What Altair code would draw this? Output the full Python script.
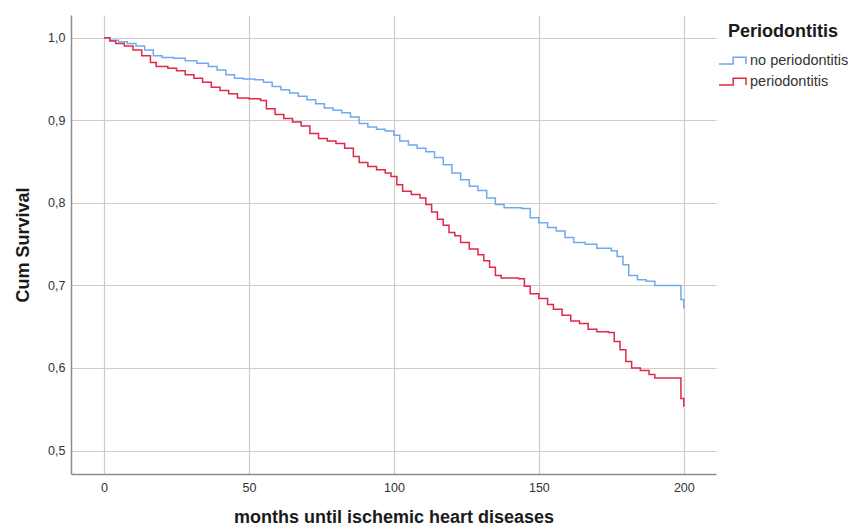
import altair as alt
import pandas as pd

groups = ["no periodontitis", "periodontitis"]
x_ticks = [0, 50, 100, 150, 200]
y_ticks = [0.5, 0.6, 0.7, 0.8, 0.9, 1.0]

no_t = [0, 2, 5, 8, 11, 14, 17, 20, 24, 28, 32, 36, 39, 42, 45, 48, 52, 55, 58, 61,
        64, 67, 70, 73, 76, 79, 82, 85, 88, 91, 94, 97, 100, 102, 105, 108, 111, 114,
        117, 120, 123, 126, 129, 132, 135, 138, 144, 147, 150, 153, 156, 159, 162, 166,
        170, 175, 177, 179, 181, 184, 187, 190, 199, 200]
no_s = [1.000, 0.997, 0.995, 0.993, 0.990, 0.985, 0.978, 0.976, 0.975, 0.972, 0.969,
        0.965, 0.961, 0.955, 0.951, 0.950, 0.949, 0.946, 0.941, 0.937, 0.933, 0.929,
        0.925, 0.920, 0.915, 0.912, 0.909, 0.904, 0.896, 0.892, 0.889, 0.887, 0.882,
        0.875, 0.870, 0.866, 0.862, 0.855, 0.846, 0.836, 0.828, 0.820, 0.815, 0.806,
        0.798, 0.794, 0.793, 0.782, 0.776, 0.770, 0.766, 0.758, 0.752, 0.750, 0.745,
        0.742, 0.735, 0.725, 0.712, 0.707, 0.705, 0.700, 0.683, 0.672]

p_t = [0, 2, 4, 7, 10, 13, 16, 18, 22, 25, 28, 31, 34, 37, 40, 43, 46, 50, 54, 56, 59,
       62, 65, 68, 71, 74, 77, 80, 83, 86, 88, 91, 94, 97, 99, 101, 103, 106, 109, 111,
       113, 115, 117, 119, 121, 123, 126, 129, 131, 133, 135, 137, 143, 145, 147, 150,
       153, 155, 158, 161, 164, 167, 170, 174, 176, 178, 180, 182, 185, 188, 190, 199,
       200]
p_s = [1.000, 0.996, 0.993, 0.990, 0.985, 0.978, 0.970, 0.965, 0.963, 0.960, 0.955,
       0.951, 0.946, 0.940, 0.936, 0.932, 0.927, 0.926, 0.924, 0.914, 0.907, 0.902,
       0.898, 0.893, 0.884, 0.878, 0.875, 0.872, 0.866, 0.856, 0.849, 0.844, 0.840,
       0.836, 0.832, 0.822, 0.814, 0.810, 0.806, 0.798, 0.789, 0.780, 0.773, 0.764,
       0.760, 0.752, 0.744, 0.737, 0.730, 0.722, 0.712, 0.709, 0.708, 0.699, 0.690,
       0.684, 0.677, 0.671, 0.664, 0.657, 0.654, 0.647, 0.644, 0.643, 0.632, 0.622,
       0.608, 0.600, 0.597, 0.592, 0.588, 0.563, 0.553]

df = pd.concat([
    pd.DataFrame({"months": no_t, "surv": no_s, "group": groups[0]}),
    pd.DataFrame({"months": p_t, "surv": p_s, "group": groups[1]}),
])

FONT = "Liberation Sans"

chart = alt.Chart(df).mark_line(interpolate="step-after", strokeWidth=1.5).encode(
    x=alt.X("months:Q",
            scale=alt.Scale(domain=[-11.4, 211.1], nice=False, zero=False),
            axis=alt.Axis(values=x_ticks, title="months until ischemic heart diseases",
                          ticks=False, labelPadding=7, titlePadding=15, format="d")),
    y=alt.Y("surv:Q",
            scale=alt.Scale(domain=[0.4716, 1.0275], nice=False, zero=False),
            axis=alt.Axis(values=y_ticks, title="Cum Survival", ticks=False,
                          labelPadding=6, titlePadding=15,
                          labelExpr="replace(format(datum.value, '.1f'), '.', ',')")),
    color=alt.Color("group:N",
                    scale=alt.Scale(domain=groups, range=["#72a9ee", "#e0284a"]),
                    legend=alt.Legend(title="Periodontitis", orient="none",
                                      legendX=647, legendY=8, padding=0,
                                      titleFontSize=18, titleFontWeight="bold",
                                      titleColor="#1a1a1a", titlePadding=5,
                                      titleAnchor="middle",
                                      labelFontSize=14.5, labelColor="#333333",
                                      labelOffset=3, rowPadding=-13, labelLimit=200,
                                      symbolType="M-1,0.25H0.05V-0.25H1V0.25",
                                      symbolSize=729, symbolStrokeWidth=1.5,
                                      symbolFillColor="transparent")),
).properties(
    width=645, height=459,
    autosize=alt.AutoSizeParams(type="none"),
    padding={"left": 63, "top": 7, "right": 138, "bottom": 52},
).configure_view(
    stroke=None
).configure_axis(
    labelFont=FONT, titleFont=FONT, labelFontSize=12.5, labelColor="#333333",
    titleFontSize=18, titleFontWeight="bold", titleColor="#1a1a1a",
    gridColor="#cccccc", gridWidth=1.2, domainColor="#8c8c8c", domainWidth=1.5,
).configure_legend(
    labelFont=FONT, titleFont=FONT
)

chart.save("out.html", embed_options={"renderer": "svg", "actions": False})
